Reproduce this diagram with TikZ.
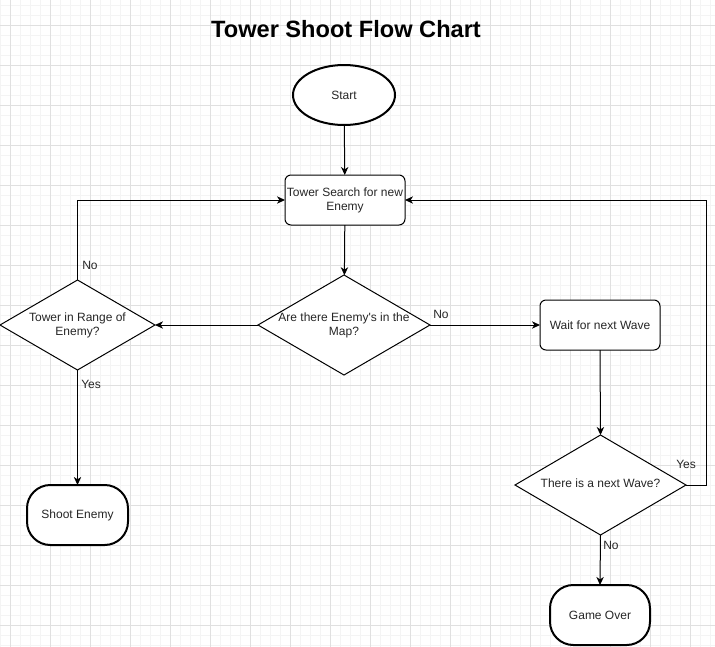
\documentclass[tikz,border=0pt]{standalone}
\usepackage{fontspec}
\setmainfont{Liberation Sans}
\usetikzlibrary{shapes.geometric,arrows.meta}
\definecolor{gridminor}{HTML}{F4F4F4}
\definecolor{gridmajor}{HTML}{E0E0E0}
\definecolor{txtgray}{HTML}{262626}
\tikzset{
  box/.style={draw=black, line width=0.75pt, rounded corners=4.5pt, minimum width=90pt, minimum height=37.5pt, inner sep=0pt, outer sep=0pt, align=center, text=txtgray, font=\fontsize{9pt}{10.5pt}\selectfont, fill=white},
  term/.style={draw=black, line width=1.5pt, rounded corners=17.5pt, minimum width=75pt, minimum height=45pt, inner sep=0pt, outer sep=0pt, align=center, text=txtgray, font=\fontsize{9pt}{10.5pt}\selectfont, fill=white},
  oval/.style={draw=black, ellipse, line width=1.5pt, minimum width=76.5pt, minimum height=45pt, inner sep=0pt, outer sep=0pt, text=txtgray, font=\fontsize{9pt}{10.5pt}\selectfont, fill=white},
  dia/.style={draw=black, diamond, line width=0.75pt, inner sep=0pt, outer sep=0pt, fill=white},
  txt/.style={align=center, text=txtgray, font=\fontsize{9pt}{10.5pt}\selectfont, inner sep=0pt},
  lbl/.style={text=txtgray, font=\fontsize{9pt}{10.5pt}\selectfont, inner sep=0pt},
  arr/.style={draw=black, line width=0.75pt, -{Stealth[length=6pt,width=5.5pt,inset=1.8pt]}}
}
\begin{document}
\begin{tikzpicture}[x=0.75pt,y=-0.75pt]
\useasboundingbox (0,0) rectangle (715,647);
\fill[white] (0,0) rectangle (715,647);
% grid
\foreach \gx in {0,10,...,710} {\draw[gridminor, line width=0.75pt] (\gx,0) -- (\gx,647);}
\foreach \gy in {5,15,...,645} {\draw[gridminor, line width=0.75pt] (0,\gy) -- (715,\gy);}
\foreach \gx in {10,50,...,710} {\draw[gridmajor, line width=0.75pt] (\gx,0) -- (\gx,647);}
\foreach \gy in {25,65,...,645} {\draw[gridmajor, line width=0.75pt] (0,\gy) -- (715,\gy);}

% title
\node[inner sep=0pt, font=\fontsize{17.7pt}{20pt}\selectfont\bfseries] (title) at (346,29) {Tower Shoot Flow Chart};

% nodes
\node[oval] (start) at (344,95) {Start};
\node[box] (search) at (345,200) {Tower Search for new\\Enemy};
\node[dia, minimum width=129pt, minimum height=75pt] (map) at (344,325) {};
\node[txt] (maptxt) at (344,325) {Are there Enemy\textquotesingle s in the\\Map?};
\node[dia, minimum width=116.25pt, minimum height=67.5pt] (range) at (77.5,325) {};
\node[txt] (rangetxt) at (77.5,325) {Tower in Range of\\Enemy?};
\node[box] (wait) at (600,325) {Wait for next Wave};
\node[dia, minimum width=128.25pt, minimum height=75pt] (next) at (600.5,485) {};
\node[txt] (nexttxt) at (600.5,483) {There is a next Wave?};
\node[term] (over) at (600,615) {Game Over};
\node[term, minimum width=75.75pt] (shoot) at (77.5,515) {Shoot Enemy};

% connectors
\coordinate (rloop) at (706,485);
\draw[arr] (start) -- (search);
\draw[arr] (search) -- (map);
\draw[arr] (map.west) -- (range.east);
\draw[arr] (map.east) -- (wait.west);
\draw[arr] (wait.south) -- (next.north);
\draw[arr] (next.east) -- (rloop) |- (search.east);
\draw[arr] (next.south) -- (over.north);
\draw[arr] (range.north) |- (search.west);
\draw[arr] (range.south) -- (shoot.north);

% labels
\node[lbl, anchor=west] (lno1) at (82,265) {No};
\node[lbl, anchor=west] (lyes1) at (81,384) {Yes};
\node[lbl, anchor=west] (lno2) at (433,314) {No};
\node[lbl, anchor=west] (lyes2) at (676,464) {Yes};
\node[lbl, anchor=west] (lno3) at (603,545) {No};
\end{tikzpicture}
\end{document}
